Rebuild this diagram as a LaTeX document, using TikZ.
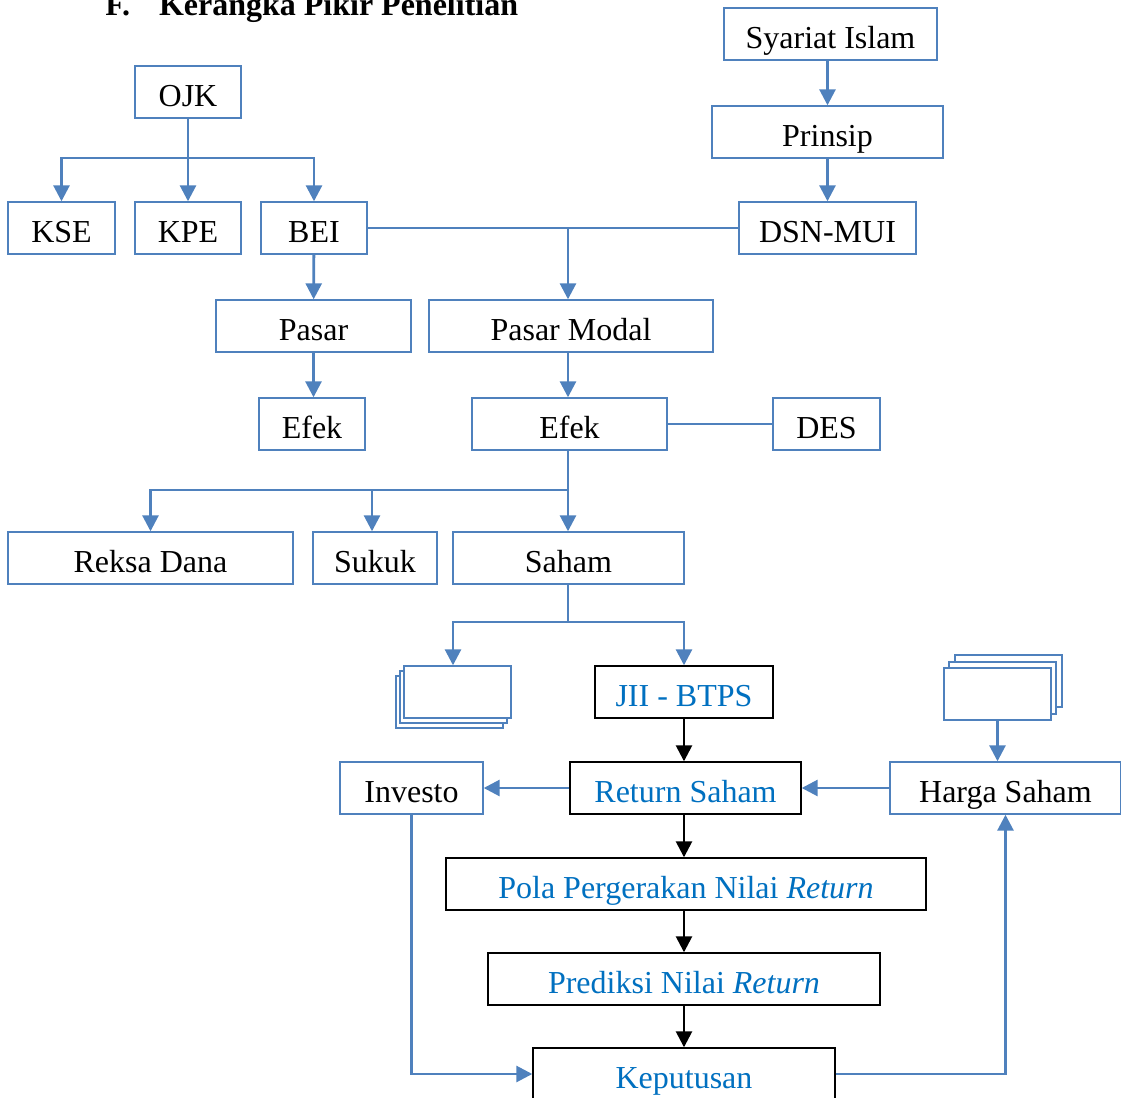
\documentclass[tikz,border=0pt]{standalone}
\usepackage{fontspec}
\setmainfont{Liberation Serif}
\usetikzlibrary{arrows.meta,shadows}
\definecolor{lnblue}{RGB}{79,129,189}
\definecolor{txblue}{RGB}{0,112,192}
\tikzset{
  box/.style={draw=lnblue, line width=0.7pt, fill=white, minimum height=26pt, inner sep=0pt,
    text height=15pt, text depth=1pt, font=\fontsize{16}{19}\selectfont},
  bbox/.style={box, draw=black, text=txblue},
  link/.style={draw=lnblue, line width=1.4pt},
  arr/.style={link, -{Triangle[length=8pt,width=8pt]}},
  barr/.style={draw=black, line width=1.3pt, -{Triangle[length=8pt,width=8pt]}}
}
\begin{document}
\begin{tikzpicture}[x=0.5pt,y=-0.5pt]
\useasboundingbox (0,0) rectangle (1121,1098);
\node[anchor=base west, inner sep=0pt, font=\bfseries\fontsize{16}{19}\selectfont] (title) at (105,15) {F.\hspace{14.5pt}Kerangka Pikir Penelitian};

\node[box, minimum width=106.5pt] (syariat) at (830.5,34) {Syariat Islam};
\node[box, minimum width=115.5pt] (prinsip) at (827.5,132) {Prinsip};
\node[box, minimum width=88.5pt] (dsn) at (827.5,228) {DSN-MUI};
\node[box, minimum width=53pt] (ojk) at (188,92) {OJK};
\node[box, minimum width=53.5pt] (kse) at (61.5,228) {KSE};
\node[box, minimum width=53pt] (kpe) at (188,228) {KPE};
\node[box, minimum width=53pt] (bei) at (314,228) {BEI};
\node[box, minimum width=97.5pt] (pasar) at (313.5,326) {Pasar};
\node[box, minimum width=142pt] (pmodal) at (571,326) {Pasar Modal};
\node[box, minimum width=53pt] (efek1) at (312,424) {Efek};
\node[box, minimum width=97.5pt] (efek2) at (569.5,424) {Efek};
\node[box, minimum width=53.5pt] (des) at (826.5,424) {DES};
\node[box, minimum width=142.5pt] (reksa) at (150.5,558) {Reksa Dana};
\node[box, minimum width=62pt] (sukuk) at (375,558) {Sukuk};
\node[box, minimum width=115.5pt] (saham) at (568.5,558) {Saham};
\node[box, minimum width=53.5pt, copy shadow={shadow xshift=-4pt,shadow yshift=-5pt},
  copy shadow={shadow xshift=-2pt,shadow yshift=-2.5pt}] (stl) at (457.5,692) {};
\node[bbox, minimum width=89pt] (jii) at (684,692) {JII - BTPS};
\node[box, minimum width=53.5pt, copy shadow={shadow xshift=5.5pt,shadow yshift=6.5pt},
  copy shadow={shadow xshift=2.5pt,shadow yshift=3pt}] (str) at (997.5,694) {};
\node[box, minimum width=71.5pt] (investo) at (411.5,788) {Investo};
\node[bbox, minimum width=115.5pt] (rsaham) at (685.5,788) {Return Saham};
\node[box, minimum width=115.5pt] (harga) at (1005.5,788) {Harga Saham};
\node[bbox, minimum width=240pt] (pola) at (686,884) {Pola Pergerakan Nilai \textit{Return}};
\node[bbox, minimum width=196pt] (prediksi) at (684,979) {Prediksi Nilai \textit{Return}};
\node[bbox, minimum width=151pt] (kep) at (684,1074) {Keputusan};

\coordinate (j1) at (188,158);
\coordinate (j2) at (568,228);
\coordinate (j3) at (568,490);
\coordinate (j4) at (568,622);

\path[arr] (syariat.south -| prinsip) -- (prinsip);
\path[arr] (prinsip) -- (dsn);
\path[link] (ojk) -- (j1);
\path[arr] (j1) -| (kse);
\path[arr] (j1) -- (kpe);
\path[arr] (j1) -| (bei);
\path[link] (bei) -- (dsn);
\path[arr] (j2) -- (j2 |- pmodal.north);
\path[arr] (bei) -- (pasar);
\path[arr] (pasar.south) -- (pasar.south |- efek1.north);
\path[arr] (pmodal.south -| j2) -- (j2 |- efek2.north);
\path[link] (efek2) -- (des);
\path[link] (j2 |- efek2.south) -- (j3);
\path[arr] (j3) -| (reksa);
\path[arr] (j3) -| ([xshift=-1.5pt]sukuk.north);
\path[arr] (j3) -- (j2 |- saham.north);
\path[link] (j2 |- saham.south) -- (j4);
\path[arr] (j4) -| ([xshift=-2.25pt]stl.north);
\path[arr] (j4) -| (jii);
\path[arr] (str.south) -- (str.south |- harga.north);
\path[arr] (rsaham) -- (investo);
\path[arr] (harga) -- (rsaham);
\path[barr] (jii) -- (jii |- rsaham.north);
\path[barr] (rsaham.south -| jii) -- (jii |- pola.north);
\path[barr] (pola.south -| prediksi) -- (prediksi);
\path[barr] (prediksi) -- (kep);
\path[arr] (investo) |- (kep);
\path[arr] (kep) -| (harga);
\end{tikzpicture}
\end{document}
